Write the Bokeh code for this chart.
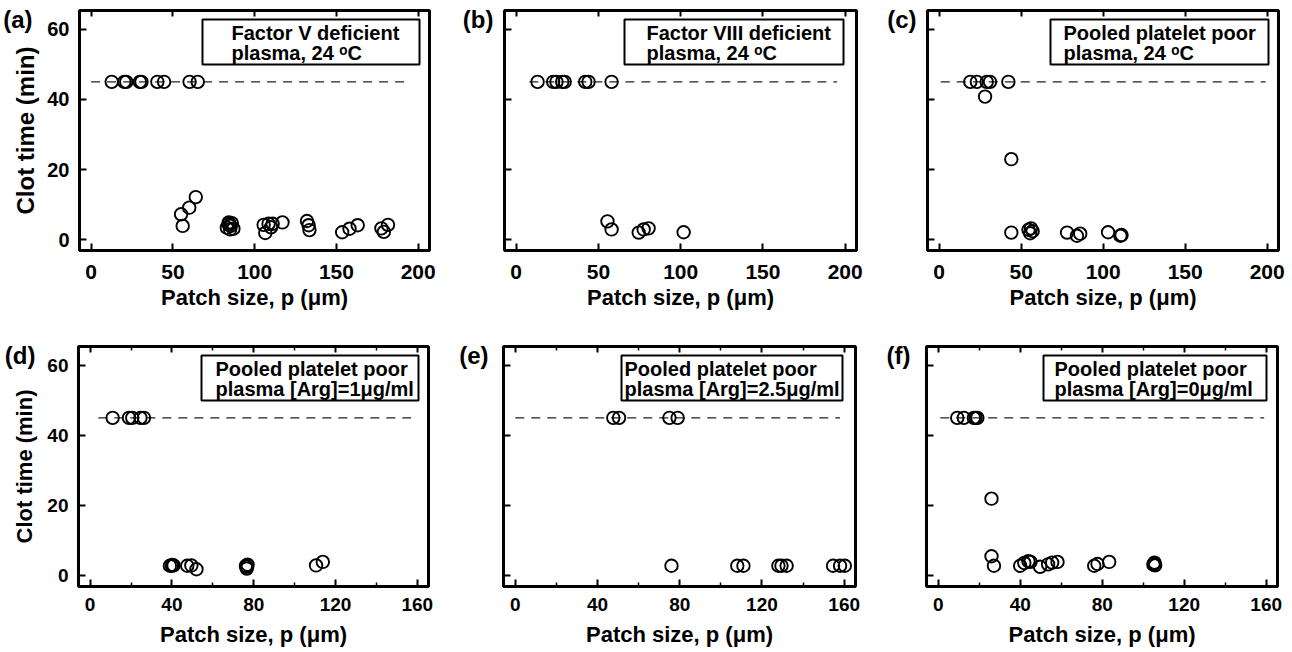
from bokeh.plotting import figure
from bokeh.layouts import column, row
from bokeh.models import (FixedTicker, LinearAxis, Range1d, BoxAnnotation, Label,
                          CustomJSTickFormatter)
from bokeh.embed import file_html
from bokeh.resources import INLINE

FONT = "Liberation Sans"

# ---------------- data ----------------
panel_tags = ["(a)", "(b)", "(c)", "(d)", "(e)", "(f)"]
box_line1 = ["Factor V deficient", "Factor VIII deficient", "Pooled platelet poor",
             "Pooled platelet poor", "Pooled platelet poor", "Pooled platelet poor"]
box_line2 = ["plasma, 24 ᵒC", "plasma, 24 ᵒC", "plasma, 24 ᵒC",
             "plasma [Arg]=1μg/ml", "plasma [Arg]=2.5μg/ml", "plasma [Arg]=0μg/ml"]

x_title = "Patch size, p (μm)"
y_title = "Clot time (min)"

x_ticks_top = [0, 50, 100, 150, 200]
x_ticks_bottom = [0, 40, 80, 120, 160]
x_minor_bottom = [20, 60, 100, 140]
y_ticks = [0, 20, 40, 60]

cutoff_min = 45
cutoff_x = [[0, 192], [8, 195], [1, 199], [4, 157], [0, 158], [1, 159]]

a_x = [12.6, 20.3, 21.5, 29.8, 30.8, 40.5, 44.6, 60.2, 65.2,
       55.0, 56.0, 60.0, 64.0,
       83.0, 84.0, 84.2, 85.0, 85.3, 86.0, 87.0,
       105.5, 106.5, 108.5, 110.0, 111.0, 117.0,
       132.0, 133.0, 133.5,
       153.5, 158.0, 163.0,
       177.5, 179.0, 181.5]
a_y = [45, 45, 45, 45, 45, 45, 45, 45, 45,
       7.3, 4.0, 9.2, 12.2,
       3.5, 4.5, 5.0, 3.0, 4.0, 4.8, 3.2,
       4.3, 2.0, 4.6, 3.6, 4.6, 5.0,
       5.4, 4.2, 2.8,
       2.2, 3.2, 4.2,
       3.3, 2.3, 4.3]

b_x = [13.0, 22.5, 24.5, 28.0, 29.5, 42.0, 44.0, 58.0,
       55.5, 58.0, 74.5, 77.5, 80.5, 101.8]
b_y = [45, 45, 45, 45, 45, 45, 45, 45,
       5.3, 3.0, 2.1, 3.0, 3.3, 2.2]

c_x = [19.0, 23.0, 29.0, 31.0, 42.2, 28.0,
       44.0, 44.0, 54.5, 56.0, 57.0, 55.5, 78.0, 84.0, 86.0, 103.0, 110.5, 111.2]
c_y = [45, 45, 45, 45, 45, 40.8,
       23.0, 2.1, 2.9, 3.3, 2.5, 1.9, 2.1, 1.2, 1.8, 2.2, 1.2, 1.4]

d_x = [11.0, 19.0, 20.6, 24.6, 26.3,
       39.0, 40.0, 40.8, 40.2, 47.5, 49.5, 52.0,
       76.2, 76.6, 77.0, 76.5, 110.5, 113.8]
d_y = [45, 45, 45, 45, 45,
       2.9, 2.9, 3.0, 3.1, 2.9, 3.0, 1.9,
       2.9, 2.1, 3.2, 2.6, 3.0, 4.0]

e_x = [47.7, 50.5, 75.0, 79.0,
       76.0, 108.0, 111.0, 128.0, 129.5, 132.0, 154.6, 158.0, 160.3]
e_y = [45, 45, 45, 45,
       2.9, 2.9, 2.9, 2.9, 2.9, 2.9, 2.9, 2.9, 2.9]

f_x = [9.3, 12.5, 17.4, 18.2, 19.1,
       26.0, 26.0, 27.2, 40.0, 42.0, 44.0, 45.0, 49.7, 53.6, 55.6, 58.2,
       76.1, 77.7, 83.4, 105.0, 105.5, 105.2, 105.8]
f_y = [45, 45, 45, 45, 45,
       22.0, 5.6, 2.9, 2.9, 3.7, 4.2, 4.0, 2.6, 3.3, 3.8, 4.0,
       2.9, 3.4, 4.0, 3.2, 3.8, 3.5, 3.0]

series_x = [a_x, b_x, c_x, d_x, e_x, f_x]
series_y = [a_y, b_y, c_y, d_y, e_y, f_y]

# ---------------- layout / style ----------------
X_RANGE_TOP = (-7.1, 206.9)
X_RANGE_BOTTOM = (-5.7, 165.5)
Y_RANGE = (-3.0, 65.3)
FRAME_H = 240
GEOM = [(78, 350, 12), (63, 352, 11), (60, 351, 10)]   # left border, frame width, right border
ROW_BORDERS = [(10, 74), (22, 62)]                     # top, bottom border per row

box_right_inset = [10, 13, 10, 10, 13, 11]
box_width = [217, 219, 218, 217, 221, 223]
text_left = [29, 22, 13, 14, 3, 11]
tag_standoff = [-23, 11, 11, -26, 15, 16]


def hide_labels():
    return CustomJSTickFormatter(code="return ''")


def make_panel(i):
    r, c = divmod(i, 3)
    lb, fw, rb = GEOM[c]
    tb, bb = ROW_BORDERS[r]
    xr = X_RANGE_TOP if r == 0 else X_RANGE_BOTTOM
    xt = x_ticks_top if r == 0 else x_ticks_bottom
    xm = [] if r == 0 else x_minor_bottom
    xtick_fs = "21px" if r == 0 else "19px"
    ytick_fs = "20px" if r == 0 else "19px"
    ytitle_fs = "24px" if r == 0 else "22px"

    p = figure(frame_width=fw, frame_height=FRAME_H,
               min_border_left=lb, min_border_right=rb,
               min_border_top=tb, min_border_bottom=bb,
               x_range=Range1d(*xr), y_range=Range1d(*Y_RANGE),
               output_backend="svg", toolbar_location=None,
               background_fill_color="white", border_fill_color="white")
    p.outline_line_color = "black"
    p.outline_line_width = 3
    p.xgrid.visible = False
    p.ygrid.visible = False

    def px_x(px):
        return xr[0] + px * (xr[1] - xr[0]) / fw

    def px_y(py):
        return Y_RANGE[1] - py * (Y_RANGE[1] - Y_RANGE[0]) / FRAME_H

    # bottom axis
    xa = p.xaxis[0]
    xa.ticker = FixedTicker(ticks=xt, minor_ticks=xm)
    xa.axis_label = x_title
    xa.axis_label_text_font = FONT
    xa.axis_label_text_font_style = "bold"
    xa.axis_label_text_font_size = "22px"
    xa.axis_label_text_color = "black"
    xa.axis_label_standoff = 3 if r == 0 else 8
    xa.major_label_text_font = FONT
    xa.major_label_text_font_style = "bold"
    xa.major_label_text_font_size = xtick_fs
    xa.major_label_text_color = "black"
    xa.major_label_standoff = 14 if r == 0 else 11
    xa.axis_line_color = None
    xa.major_tick_in = 7
    xa.major_tick_out = 0
    xa.major_tick_line_width = 2
    xa.minor_tick_in = 4
    xa.minor_tick_out = 0
    xa.minor_tick_line_width = 1.5

    # top mirror axis
    ta = LinearAxis(ticker=FixedTicker(ticks=xt, minor_ticks=xm), formatter=hide_labels(),
                    major_label_text_font_size="0px", major_label_standoff=0,
                    axis_line_color=None, major_tick_in=6, major_tick_out=0,
                    major_tick_line_width=2, minor_tick_in=4, minor_tick_out=0,
                    minor_tick_line_width=1.5)
    p.add_layout(ta, "above")

    # left axis
    ya = p.yaxis[0]
    ya.ticker = FixedTicker(ticks=y_ticks, minor_ticks=[])
    ya.axis_line_color = None
    ya.major_tick_in = 7
    ya.major_tick_out = 0
    ya.major_tick_line_width = 2
    ya.minor_tick_line_color = None
    if c == 0:
        ya.axis_label = y_title
        ya.axis_label_text_font = FONT
        ya.axis_label_text_font_style = "bold"
        ya.axis_label_text_font_size = ytitle_fs
        ya.axis_label_text_color = "black"
        ya.axis_label_standoff = 5 if r == 0 else 7
        ya.major_label_text_font = FONT
        ya.major_label_text_font_style = "bold"
        ya.major_label_text_font_size = ytick_fs
        ya.major_label_text_color = "black"
        ya.major_label_standoff = 10
    else:
        ya.formatter = hide_labels()
        ya.major_label_text_font_size = "0px"
        ya.major_label_standoff = 0

    # panel tag, drawn as the single label of an extra left axis
    tag_axis = LinearAxis(ticker=FixedTicker(ticks=[px_y(9)], minor_ticks=[]),
                          formatter=CustomJSTickFormatter(code="return '%s'" % panel_tags[i]),
                          axis_line_color=None, major_tick_line_color=None,
                          major_tick_in=0, major_tick_out=0,
                          minor_tick_line_color=None,
                          major_label_standoff=tag_standoff[i],
                          major_label_text_font=FONT, major_label_text_font_style="bold",
                          major_label_text_font_size="24px", major_label_text_color="black")
    p.add_layout(tag_axis, "left")

    # cutoff dashed line
    p.line(x=cutoff_x[i], y=[cutoff_min, cutoff_min], line_dash="9 7",
           line_color="#222222", line_width=1.3)

    # data
    p.scatter(x=series_x[i], y=series_y[i], marker="circle", size=12.5,
              fill_color=None, line_color="black", line_width=1.9)

    # legend box
    right_px = fw - box_right_inset[i]
    left_px = right_px - box_width[i]
    box = BoxAnnotation(left=px_x(left_px), right=px_x(right_px),
                        top=px_y(9), bottom=px_y(54),
                        fill_color="white", fill_alpha=1.0,
                        line_color="black", line_width=2, line_alpha=1.0)
    p.add_layout(box)
    for txt, py in ((box_line1[i], 22), (box_line2[i], 42)):
        p.add_layout(Label(x=px_x(left_px + text_left[i]), y=px_y(py), text=txt,
                           text_font=FONT, text_font_style="bold",
                           text_font_size="20px", text_color="black",
                           text_align="left", text_baseline="middle"))
    return p


panels = [make_panel(i) for i in range(6)]
layout = column(row(*panels[:3], spacing=0), row(*panels[3:], spacing=0), spacing=0)

open("out.html", "w").write(file_html(layout, INLINE))
